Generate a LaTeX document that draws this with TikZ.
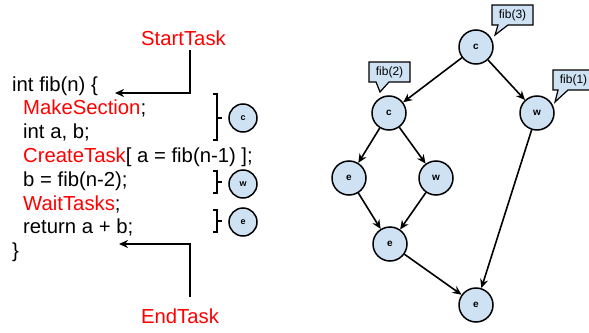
\documentclass[tikz,border=0pt]{standalone}
\usepackage{fontspec}
\setmainfont{Liberation Sans}
\usetikzlibrary{arrows.meta}
\definecolor{nodeblue}{RGB}{207,226,243}
\definecolor{codered}{RGB}{255,0,0}

\begin{document}
\begin{tikzpicture}[x=1pt,y=-1pt,
  task/.style={circle,draw=black,line width=1.5pt,fill=nodeblue,minimum size=34pt,inner sep=0pt,font=\fontsize{10}{12}\selectfont\bfseries},
  mini/.style={task,minimum size=28pt,font=\fontsize{9}{10}\selectfont\bfseries},
  flow/.style={-{Stealth[length=9pt,width=8pt]},line width=1.6pt},
  code/.style={anchor=base west,inner sep=0pt,font=\fontsize{20.3}{24}\selectfont},
  marker/.style={text=codered,inner sep=0pt,anchor=base,font=\fontsize{20.3}{24}\selectfont},
  bracket/.style={line width=1.5pt},
  callout/.style={draw=black,line width=1.2pt,fill=nodeblue},
  callouttext/.style={inner sep=0pt,font=\fontsize{12}{14}\selectfont}]
\useasboundingbox (0,0) rectangle (589,332);
\clip (0,0) rectangle (589,332);

% ---- annotated source code ----
\node[code] (l0) at (12,91)    {int fib(n) \{};
\node[code] (l1) at (23,114.8) {\textcolor{codered}{MakeSection};};
\node[code] (l2) at (23,138.6) {int a, b;};
\node[code] (l3) at (23,162.4) {\textcolor{codered}{CreateTask}[ a = fib(n-1) ];};
\node[code] (l4) at (23,186.2) {b = fib(n-2);};
\node[code] (l5) at (23,210)   {\textcolor{codered}{WaitTasks};};
\node[code] (l6) at (23,233.8) {return a + b;};
\node[code] (l7) at (12,257.6) {\}};

% task begin / end markers
\node[marker] (start) at (183.5,45) {StartTask};
\node[marker] (end)   at (180,323)  {EndTask};
\coordinate (starttip) at (115,93);
\coordinate (endtip)   at (119,244);
\draw[flow] (190,50) |- (starttip);
\draw[flow] (190,297) |- (endtip);

% brackets grouping the statements into tasks
\draw[bracket] (213,94) -- (217,94) -- (217,140) -- (213,140) (217,118) -- (222,118);
\draw[bracket] (213,171) -- (217,171) -- (217,193) -- (213,193) (217,182) -- (222,182);
\draw[bracket] (213,210) -- (217,210) -- (217,232) -- (213,232) (217,221) -- (222,221);
\node[mini] (kc) at (243,118) {c};
\node[mini] (kw) at (243,184) {w};
\node[mini] (ke) at (243,222) {e};

% ---- task graph of fib(3) ----
\node[task] (root) at (476,47)  {c};
\node[task] (c2)   at (389,113) {c};
\node[task] (w1)   at (537,113) {w};
\node[task] (eL)   at (349,178) {e};
\node[task] (wM)   at (436,178) {w};
\node[task] (eM)   at (390,244) {e};
\node[task] (eB)   at (476,305) {e};

\draw[flow] (root) -- (c2);
\draw[flow] (root) -- (w1);
\draw[flow] (c2) -- (eL);
\draw[flow] (c2) -- (wM);
\draw[flow] (eL) -- (eM);
\draw[flow] (wM) -- (eM);
\draw[flow] (eM) -- (eB);
\draw[flow] (w1) -- (eB);

% call-site callouts
\draw[callout] (492,5) -- (533,5) -- (533,25) -- (508,25) -- (495,35) -- (498,25) -- (492,25) -- cycle;
\node[callouttext] (f3) at (512.5,15) {fib(3)};
\draw[callout] (369,62) -- (410,62) -- (410,82) -- (389,82) -- (380,92) -- (376,82) -- (369,82) -- cycle;
\node[callouttext] (f2) at (389.5,72) {fib(2)};
\draw[callout] (553,70) -- (596,70) -- (596,90) -- (568,90) -- (555,102) -- (558,90) -- (553,90) -- cycle;
\node[callouttext] (f1) at (573.5,80) {fib(1)};
\end{tikzpicture}
\end{document}
